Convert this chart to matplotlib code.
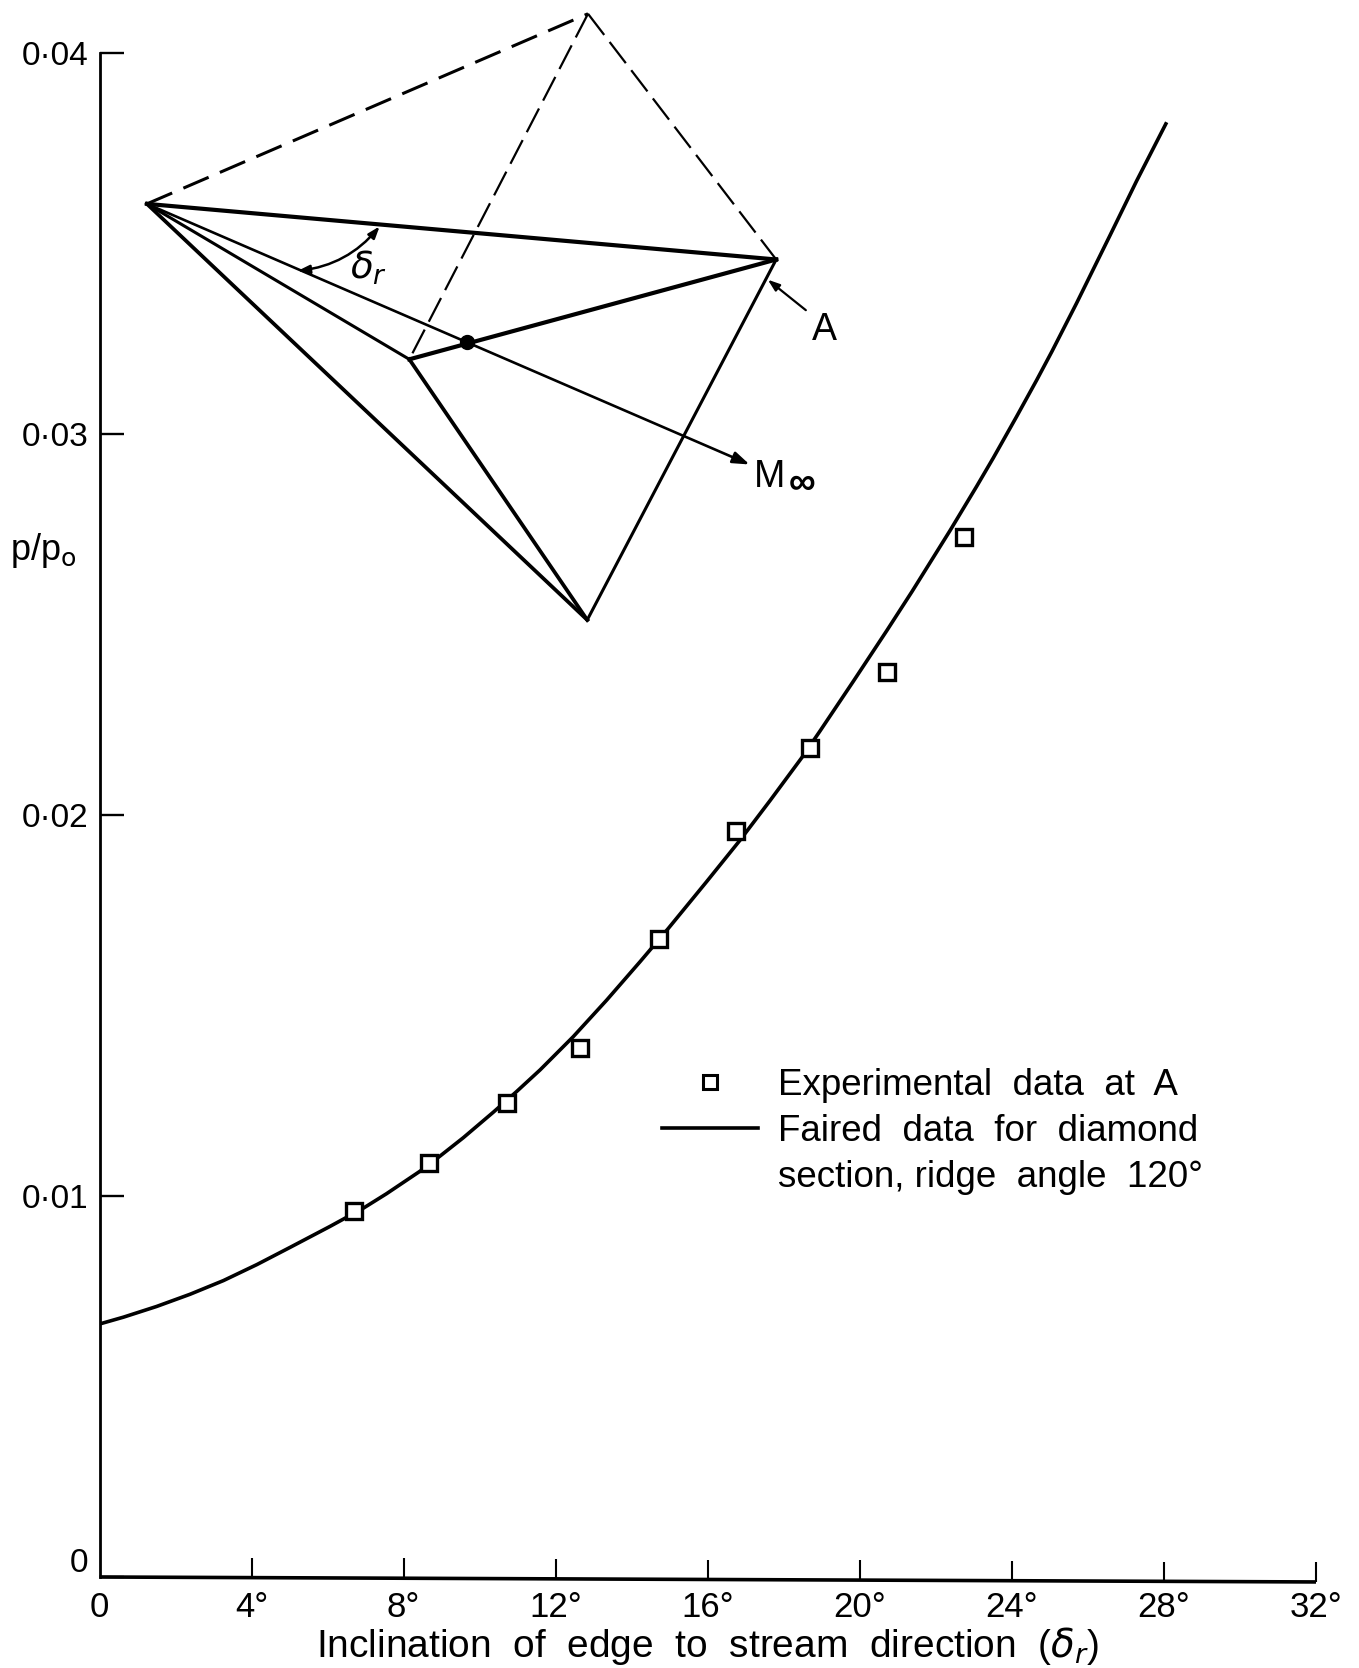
import matplotlib
matplotlib.use("Agg")
import matplotlib.pyplot as plt
from matplotlib import transforms
from matplotlib.lines import Line2D

plt.rcParams['font.family'] = ['Liberation Sans', 'DejaVu Sans']
plt.rcParams['mathtext.fontset'] = 'dejavusans'

WIDTH, HEIGHT = 1359, 1668

# experimental points
exp_angle = [6.69, 8.68, 10.71, 12.65, 14.71, 16.73, 18.70, 20.72, 22.74]
exp_ratio = [0.00961, 0.01087, 0.01243, 0.01388, 0.01674, 0.01958, 0.02176, 0.02375, 0.0273]

# faired curve
fair_angle = [0, 0.63, 1.5, 2.38, 3.26, 4.14, 5.01, 6.06, 6.94, 7.55, 8.43, 8.96, 9.57, 10.36, 10.97, 11.59,
              12.46, 13.34, 14.22, 14.96, 15.97, 16.85, 17.64, 18.47, 18.95, 19.83, 20.71, 21.37, 22.37, 23.07,
              23.51, 24.12, 24.65, 25.05, 25.7, 26.58, 27.28, 28.05]
fair_ratio = [0.00664, 0.00682, 0.0071, 0.00742, 0.00778, 0.0082, 0.00865, 0.0092, 0.00968, 0.01006, 0.01065,
              0.01105, 0.01153, 0.0122, 0.01274, 0.01331, 0.01418, 0.01514, 0.01615, 0.01702, 0.01825, 0.01934,
              0.02038, 0.0215, 0.0222, 0.02351, 0.02484, 0.02586, 0.02746, 0.02862, 0.02937, 0.03045, 0.03141,
              0.03216, 0.03343, 0.03521, 0.03664, 0.03814]

x_ticks = [0, 4, 8, 12, 16, 20, 24, 28, 32]
x_tick_labels = ['0', '4°', '8°', '12°', '16°', '20°', '24°', '28°', '32°']
y_ticks = [0, 0.01, 0.02, 0.03, 0.04]
y_tick_labels = ['0', '0·01', '0·02', '0·03', '0·04']

apex = (1.247, 0.03604)
top = (12.85, 0.04103)
right = (17.80, 0.03458)
bottom = (12.83, 0.02512)
ridge = (8.15, 0.03196)
centre = (9.67, 0.03241)
stream_tip = (17.10, 0.0292)
arc_start = (5.21, 0.03428)
arc_end = (7.37, 0.03545)
a_tail = (18.58, 0.03325)
a_tip = (17.58, 0.03405)

# the scanned x axis runs slightly downhill
AXIS_SAG = 0.00013
TICK_HEIGHT = 0.00052

fig = plt.figure(figsize=(WIDTH / 100, HEIGHT / 100), dpi=100)
ax = fig.add_axes([99.5 / WIDTH, (HEIGHT - 1577) / HEIGHT, (1316 - 99.5) / WIDTH, (1577 - 53) / HEIGHT])
ax.set_xlim(0, 32)
ax.set_ylim(0, 0.04)

ax.spines['top'].set_visible(False)
ax.spines['right'].set_visible(False)
ax.spines['bottom'].set_visible(False)
ax.spines['left'].set_linewidth(2.0)

ax.set_xticks(x_ticks, x_tick_labels)
ax.set_yticks(y_ticks, y_tick_labels)
ax.tick_params(axis='x', length=0, pad=10, labelsize=25)
ax.tick_params(axis='y', direction='in', length=17, width=1.7, pad=8, labelsize=24)

ax.plot([0, 32], [0, -AXIS_SAG], color='black', lw=2.6, clip_on=False, solid_capstyle='butt')
tick_base = [-AXIS_SAG * t / 32 for t in x_ticks]
tick_end = [b + TICK_HEIGHT for b in tick_base]
ax.vlines(x_ticks[1:], tick_base[1:], tick_end[1:], color='black', lw=1.5, clip_on=False)

# the y zero label sits above its tick in the original
shift = transforms.ScaledTranslation(0, 17 / 100, fig.dpi_scale_trans)
zero_label = ax.get_yticklabels()[0]
zero_label.set_transform(zero_label.get_transform() + shift)

ax.set_xlabel('Inclination  of  edge  to  stream  direction  ($\\delta_r$)', fontsize=28, labelpad=1)
ax.text(-1.49, 0.02694, 'p/p$_{\\mathrm{o}}$', fontsize=26, ha='center', va='center')

line, = ax.plot(fair_angle, fair_ratio, color='black', lw=2.6, zorder=2)
ax.plot(exp_angle, exp_ratio, linestyle='none', marker='s', ms=11.5, mfc='white', mec='black', mew=2.4, zorder=3)

leg_square = Line2D([], [], linestyle='none', marker='s', ms=9.5, mfc='white', mec='black', mew=2.2)
leg_blank = Line2D([], [], linestyle='none')
ax.legend([leg_square, line, leg_blank],
          ['Experimental  data  at  A', 'Faired  data  for  diamond', 'section, ridge  angle  120°'],
          loc='upper left', bbox_to_anchor=(0.435, 0.356), frameon=False, fontsize=26.5,
          handlelength=2.62, handletextpad=0.55, labelspacing=0.3)


def seg(a, b, lw, **kw):
    ax.plot([a[0], b[0]], [a[1], b[1]], color='black', lw=lw, clip_on=False, **kw)


seg(apex, top, 2.2, dashes=(9, 4))
seg(top, ridge, 1.6, dashes=(12, 4))
seg(top, right, 1.6, dashes=(12, 4))
seg(apex, right, 3.0)
seg(right, ridge, 3.0)
seg(apex, ridge, 2.2)
seg(apex, bottom, 2.7)
seg(ridge, bottom, 2.7)
seg(right, bottom, 2.2)
ax.plot([centre[0]], [centre[1]], marker='o', ms=10, color='black')

ax.annotate('', xy=stream_tip, xytext=apex,
            arrowprops=dict(arrowstyle='-|>,head_length=1.0,head_width=0.35', lw=1.9, color='black', shrinkA=0, shrinkB=0))
ax.annotate('', xy=a_tip, xytext=a_tail,
            arrowprops=dict(arrowstyle='-|>,head_length=0.7,head_width=0.25', lw=1.6, color='black', shrinkA=0, shrinkB=0))
ax.annotate('', xy=arc_end, xytext=arc_start,
            arrowprops=dict(arrowstyle='<|-|>,head_length=0.7,head_width=0.25', lw=1.8, color='black', shrinkA=0, shrinkB=0,
                            connectionstyle='arc3,rad=0.2'))

ax.text(19.06, 0.03274, 'A', fontsize=27, ha='center', va='center')
ax.text(17.62, 0.02887, 'M', fontsize=27, ha='center', va='center')
ax.text(18.48, 0.02868, '∞', fontsize=27, ha='center', va='center', fontweight='bold')
ax.text(7.09, 0.03436, '$\\delta_r$', fontsize=27, ha='center', va='center')

fig.savefig('out.png', dpi=100, facecolor='white')
